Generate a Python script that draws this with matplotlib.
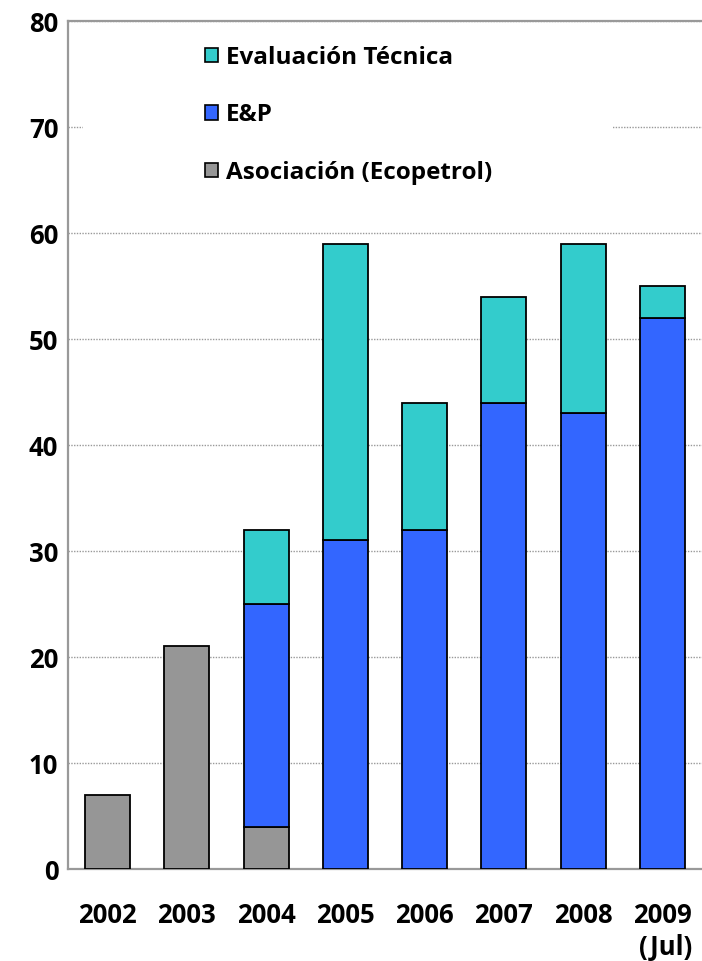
import matplotlib
matplotlib.use("Agg")
import matplotlib.pyplot as plt
from matplotlib.patches import Rectangle, Patch
import numpy as np

years = ["2002", "2003", "2004", "2005", "2006", "2007", "2008", "2009\n(Jul)"]
asociacion = [7, 21, 4, 0, 0, 0, 0, 0]
ep = [0, 0, 21, 31, 32, 44, 43, 52]
evaluacion = [0, 0, 7, 28, 12, 10, 16, 3]
yticks = [0, 10, 20, 30, 40, 50, 60, 70, 80]

c_eval = "#33CCCC"
c_ep = "#3366FF"
c_asoc = "#969696"

plt.rcParams['font.family'] = ['Open Sans', 'DejaVu Sans']
plt.rcParams['font.weight'] = 'bold'
FS = 17.5
TFS = 18.5

fig = plt.figure(figsize=(7.02, 9.61), dpi=100)
ax = fig.add_axes([68/702, 1-869/961, 634/702, 848/961])

x = np.arange(len(years))
asoc = np.array(asociacion)
epa = np.array(ep)
eva = np.array(evaluacion)
w = 0.57
ax.bar(x[asoc > 0], asoc[asoc > 0], w, color=c_asoc, edgecolor='black', linewidth=1.3, zorder=3)
ax.bar(x[epa > 0], epa[epa > 0], w, bottom=asoc[epa > 0], color=c_ep, edgecolor='black', linewidth=1.3, zorder=3)
ax.bar(x[eva > 0], eva[eva > 0], w, bottom=(asoc + epa)[eva > 0], color=c_eval, edgecolor='black', linewidth=1.3, zorder=3)

ax.set_xlim(-0.5, 7.5)
ax.set_ylim(0, 80)
ax.set_yticks(yticks)
ax.set_xticks(x)
ax.set_xticklabels(years, multialignment='right')
ax.tick_params(axis='both', length=0, labelsize=TFS)
ax.tick_params(axis='y', pad=7)
ax.tick_params(axis='x', pad=24)
for lab in ax.get_xticklabels() + ax.get_yticklabels():
    lab.set_fontweight('bold')

ax.yaxis.grid(True, linestyle=(0, (1, 1)), color='#999999', linewidth=1.0, zorder=0)
ax.set_axisbelow(True)
for s in ['left', 'bottom', 'top']:
    ax.spines[s].set_color('#999999')
    ax.spines[s].set_linewidth(1.6)
ax.spines['right'].set_visible(False)

ax.add_patch(Rectangle((0.024, 0.771), 0.836, 0.215, transform=ax.transAxes,
                       facecolor='white', edgecolor='none', zorder=1))

handles = [Patch(facecolor=c_eval, edgecolor='black', linewidth=1.2),
           Patch(facecolor=c_ep, edgecolor='black', linewidth=1.2),
           Patch(facecolor=c_asoc, edgecolor='black', linewidth=1.2)]
labels = ["Evaluación Técnica", "E&P", "Asociación (Ecopetrol)"]
leg = ax.legend(handles, labels, loc='upper left', bbox_to_anchor=(0.216, 0.971),
                frameon=False, handlelength=0.55, handleheight=0.55,
                handletextpad=0.3, labelspacing=1.38, borderpad=0, borderaxespad=0,
                prop={'weight': 'bold', 'size': FS})
leg.set_zorder(5)

fig.savefig("out.png", dpi=100)
